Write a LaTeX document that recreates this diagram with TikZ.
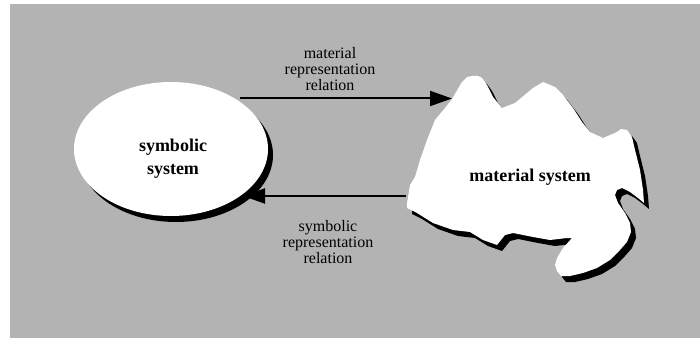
\documentclass[tikz,border=0pt]{standalone}
\usepackage{fontspec}
\setmainfont{Liberation Serif}
\usetikzlibrary{shapes.geometric,arrows.meta,shadows}
\definecolor{bggray}{RGB}{179,179,179}
\tikzset{
  relarrow/.style={line width=2pt,-{Triangle[length=22pt,width=15pt]}},
  rellabel/.style={align=center,inner sep=0pt,font=\fontsize{16}{15.7}\selectfont},
  syslabel/.style={align=center,inner sep=0pt,font=\fontsize{18}{23}\selectfont\bfseries},
  blackshadow/.style={drop shadow={shadow xshift=5pt,shadow yshift=-6pt,fill=black,opacity=1}}
}
\begin{document}
\begin{tikzpicture}[x=1pt,y=-1pt]
\useasboundingbox (0,0) rectangle (700,339);
\fill[white] (0,0) rectangle (700,339);
\fill[bggray] (10,4) rectangle (700,338);

% symbolic system ellipse
\node[ellipse,minimum width=194pt,minimum height=134pt,inner sep=0pt,fill=white,blackshadow] (sym) at (171,149) {};
\node[syslabel] (symtext) at (173,159) {symbolic\\system};

% material system blob
\def\blobpath{(452,99) -- (462,82) -- (467,77) -- (472,76) -- (478,76) -- (482,78) -- (487,85) -- (493,97) -- (502,108) -- (515,103) -- (527,93) -- (533,88) -- (543,82) -- (555,87) -- (563,95) -- (573,108) -- (582,122) -- (590,132) -- (603,138) -- (617,132) -- (621,129) -- (627,130) -- (632,137) -- (635,150) -- (640,170) -- (643,190) -- (644,203) -- (638,198) -- (630,192) -- (622,188) -- (617,190) -- (615,195) -- (618,203) -- (625,213) -- (630,223) -- (631,232) -- (627,242) -- (620,250) -- (610,260) -- (597,268) -- (583,273) -- (570,276) -- (561,276) -- (557,271) -- (555,265) -- (557,258) -- (563,248) -- (572,238) -- (567,238) -- (550,240) -- (533,237) -- (513,233) -- (505,235) -- (497,245) -- (483,240) -- (470,232) -- (453,230) -- (433,223) -- (417,213) -- (407,208) -- (407,203) -- (410,185) -- (415,177) -- (420,160) -- (427,140) -- (435,120) -- (445,108) -- cycle}
\fill[black,shift={(5pt,-6pt)}] \blobpath;
\fill[white] \blobpath;
\node[syslabel] (mat) at (530,177) {material system};

% arrows
\coordinate (a1s) at (240,98.5);
\coordinate (a1e) at (452,98.5);
\coordinate (a2s) at (406,196);
\coordinate (a2e) at (243,196);
\draw[relarrow] (a1s) -- (a1e);
\draw[relarrow] (a2s) -- (a2e);

\node[rellabel] (toplab) at (330,69) {material\\representation\\relation};
\node[rellabel] (botlab) at (328,242) {symbolic\\representation\\relation};
\end{tikzpicture}
\end{document}
